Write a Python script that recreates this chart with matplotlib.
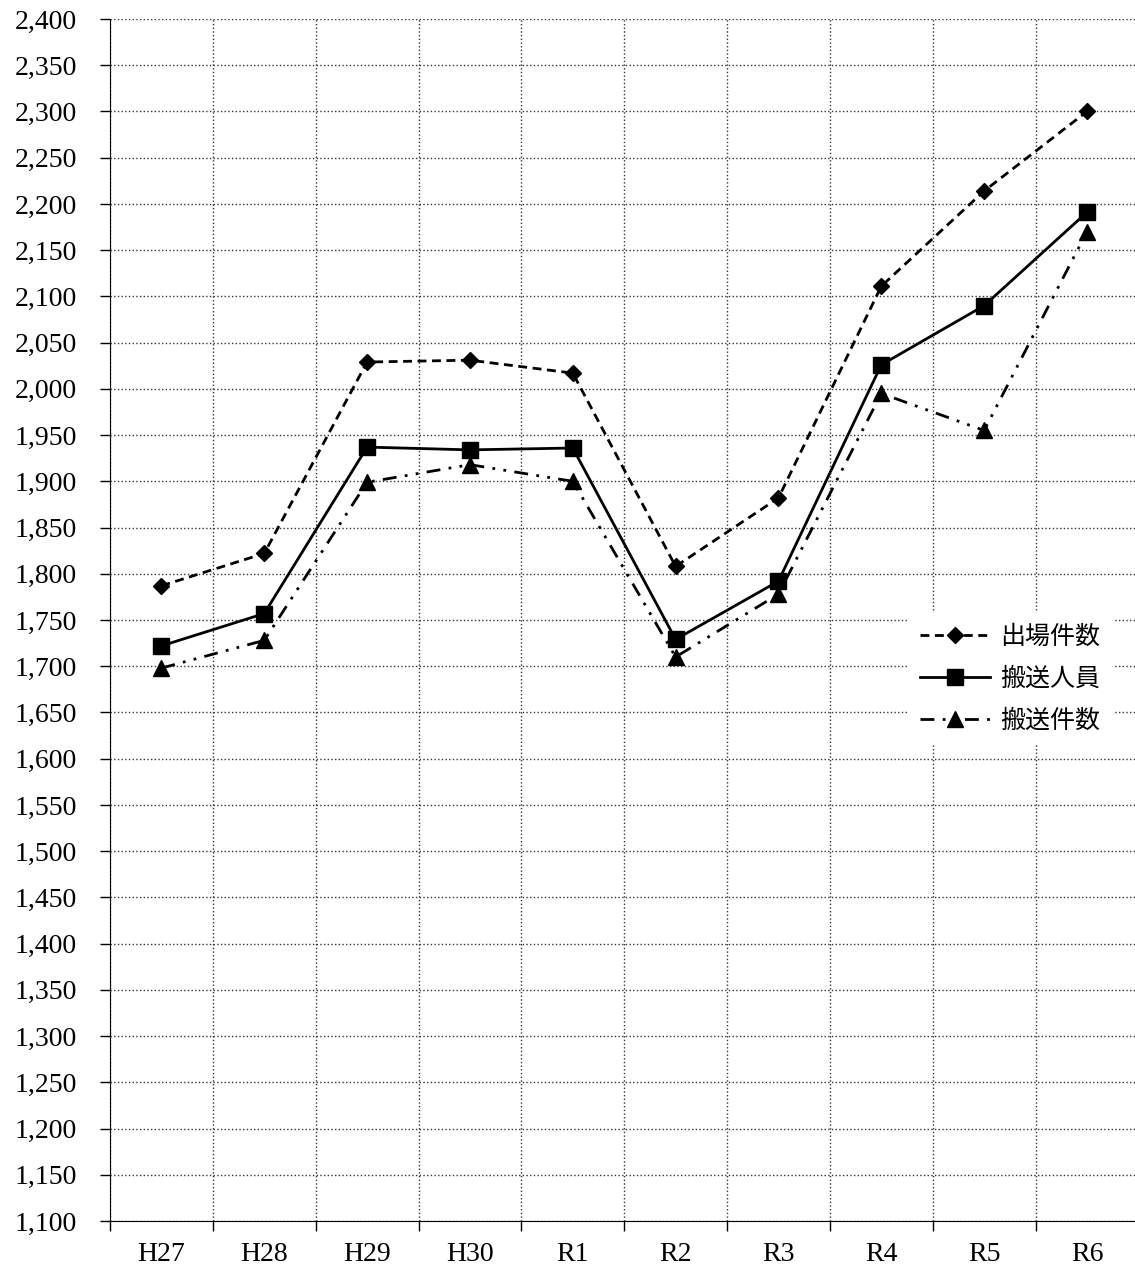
import matplotlib.pyplot as plt
from matplotlib.ticker import FuncFormatter, MultipleLocator
import numpy as np

plt.rcParams['font.family'] = ['Liberation Serif', 'Noto Sans CJK JP']

# Data
years = ['H27', 'H28', 'H29', 'H30', 'R1', 'R2', 'R3', 'R4', 'R5', 'R6']
shutsujo = [1787, 1822, 2029, 2031, 2017, 1808, 1882, 2111, 2214, 2300]
hanso_jinin = [1722, 1757, 1937, 1934, 1936, 1729, 1792, 2026, 2090, 2191]
hanso_kensu = [1698, 1728, 1899, 1918, 1900, 1710, 1778, 1995, 1955, 2170]

fig = plt.figure(figsize=(11.35, 12.68), dpi=100)
ax = fig.add_axes([110 / 1135, 1 - 1221 / 1268, 1 - 110 / 1135 + 0.003, (1221 - 19) / 1268])

x = np.arange(len(years))
ax.plot(x, shutsujo, color='black', lw=2, linestyle=(0, (3.2, 2)),
        marker='D', markersize=8, label='出場件数', zorder=3)
ax.plot(x, hanso_jinin, color='black', lw=2, linestyle='-',
        marker='s', markersize=11, label='搬送人員', zorder=3)
ax.plot(x, hanso_kensu, color='black', lw=2, linestyle=(0, (5, 3, 1, 3, 1, 3)),
        marker='^', markersize=11, label='搬送件数', zorder=3)

ax.set_xlim(-0.5, len(years) - 0.5)
ax.set_ylim(1100, 2400)
ax.yaxis.set_major_locator(MultipleLocator(50))
ax.yaxis.set_major_formatter(FuncFormatter(lambda v, p: f'{v:,.0f}'))

ax.set_xticks(x)
ax.set_xticklabels(years)
ax.set_xticks(np.arange(-0.5, len(years)), minor=True)
ax.tick_params(axis='x', which='major', length=0, pad=15, labelsize=20)
ax.tick_params(axis='x', which='minor', length=7, width=1, direction='out')
ax.tick_params(axis='y', length=7, width=1, direction='out', pad=17, labelsize=20)

ax.grid(axis='y', which='major', linestyle=':', color='#333333', lw=1)
ax.grid(axis='x', which='minor', linestyle=':', color='#333333', lw=1)
ax.spines['top'].set_visible(False)
ax.spines['right'].set_visible(False)
ax.set_axisbelow(True)

leg = ax.legend(loc='center', bbox_to_anchor=(1010 / 1135, 1 - 679 / 1268),
                bbox_transform=fig.transFigure, fontsize=18, frameon=True,
                fancybox=False, framealpha=1, edgecolor='none',
                handlelength=2.8, handletextpad=0.4, labelspacing=0.75,
                borderpad=0.5)

fig.savefig('out.png', dpi=100)
